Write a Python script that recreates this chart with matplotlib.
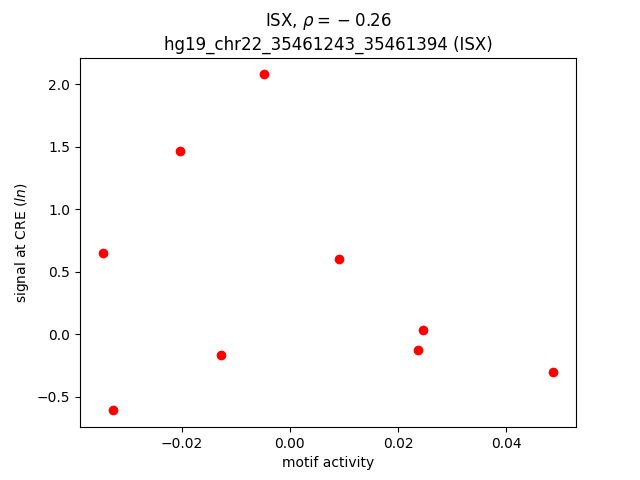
import matplotlib
matplotlib.use('Agg')
import matplotlib.pyplot as plt

# values
motif_activity = [-0.0346, -0.0326, -0.0202, -0.0128, -0.0048, 0.0091, 0.0237, 0.0246, 0.0487]
cre_signal = [0.648, -0.608, 1.464, -0.168, 2.08, 0.60, -0.128, 0.032, -0.304]

fig = plt.figure(figsize=(6.4, 4.8), dpi=100)
ax = fig.add_subplot(1, 1, 1)
ax.scatter(motif_activity, cre_signal, color='red')
ax.set_title('ISX, $\\rho = \\:-\\:0.26$\nhg19_chr22_35461243_35461394 (ISX)')
ax.set_xlabel('motif activity')
ax.set_ylabel('signal at CRE ($ln$)')
fig.savefig('out.png')
